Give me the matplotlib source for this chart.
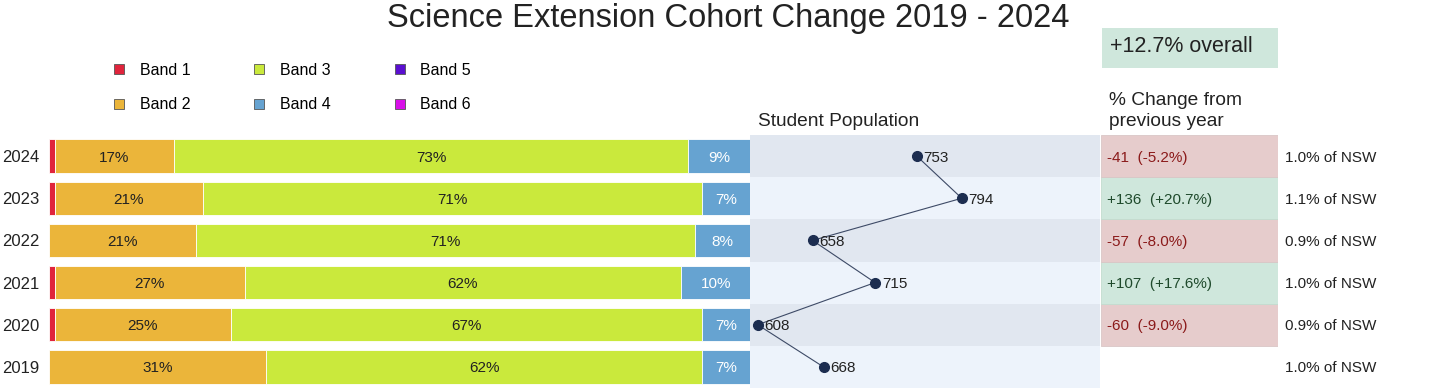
import matplotlib
matplotlib.use("Agg")
import matplotlib.pyplot as plt
from matplotlib.lines import Line2D
from matplotlib.patches import Rectangle
import numpy as np

plt.rcParams['font.family'] = ['Liberation Sans', 'DejaVu Sans']

# data, bottom row first (2019) up to 2024
years = ['2019', '2020', '2021', '2022', '2023', '2024']
band1 = [0.0, 0.8, 0.8, 0.0, 0.8, 0.8]
band2 = [31.0, 25.1, 27.1, 21.0, 21.1, 17.1]
band3 = [62.2, 67.3, 62.3, 71.2, 71.3, 73.3]
band4 = [6.8, 6.8, 9.8, 7.8, 6.8, 8.8]
band5 = [0.0, 0.0, 0.0, 0.0, 0.0, 0.0]
band6 = [0.0, 0.0, 0.0, 0.0, 0.0, 0.0]
population = [668, 608, 715, 658, 794, 753]
nsw_share = [1.0, 0.9, 1.0, 0.9, 1.1, 1.0]

band_names = ['Band 1', 'Band 2', 'Band 3', 'Band 4', 'Band 5', 'Band 6']
band_colors = ['#e0243c', '#ebb53a', '#cae93c', '#66a3d1', '#5a0fd0', '#d80fe8']
label_colors = ['#222222', '#222222', '#222222', 'white', 'white', 'white']
bands = [band1, band2, band3, band4, band5, band6]

W, H = 1456, 392
fig = plt.figure(figsize=(W / 100, H / 100), dpi=100)
y = np.arange(len(years))
ax_b, ax_h = 4 / H, 253 / H

# stacked bars
ax_bar = fig.add_axes([49 / W, ax_b, 701 / W, ax_h])
left = np.zeros(len(years))
for vals, col, lcol in zip(bands, band_colors, label_colors):
    vals = np.array(vals)
    ax_bar.barh(y, vals, left=left, height=0.79, color=col,
                edgecolor='white', linewidth=0.6)
    for yi, v, l in zip(y, vals, left):
        if v >= 3:
            ax_bar.text(l + v / 2, yi, f"{v:.0f}%", ha='center',
                        va='center_baseline', fontsize=11, color=lcol)
    left += vals
ax_bar.set_xlim(0, 100)
ax_bar.set_ylim(-0.5, len(years) - 0.5)
ax_bar.set_xticks([])
ax_bar.set_yticks(y)
ax_bar.set_yticklabels(years, fontsize=12, color='#222222')
ax_bar.tick_params(axis='y', length=0, pad=7)
for s in ax_bar.spines.values():
    s.set_visible(False)

# population
ax_pop = fig.add_axes([750 / W, ax_b, 350 / W, ax_h])
for yi in y:
    ax_pop.axhspan(yi - 0.5, yi + 0.5, color='#e1e7f0' if yi % 2 else '#edf3fb',
                   lw=0)
ax_pop.plot(population, y, color='#3d4a66', lw=0.8, marker='o', ms=7,
            mfc='#1c2d50', mec='#1c2d50')
for p, yi in zip(population, y):
    ax_pop.annotate(str(p), (p, yi), xytext=(5, 0), textcoords='offset points',
                    ha='left', va='center_baseline', fontsize=11, color='#222222')
ax_pop.set_xlim(601, 920)
ax_pop.set_ylim(-0.5, len(years) - 0.5)
ax_pop.axis('off')

# change from previous year
ax_ch = fig.add_axes([1101 / W, ax_b, 177 / W, ax_h])
for i in range(1, len(years)):
    diff = population[i] - population[i - 1]
    pct = diff / population[i - 1] * 100
    if diff >= 0:
        bg, fg, ec = '#cfe7dc', '#1f4a2c', '#c3dccf'
    else:
        bg, fg, ec = '#e6cccc', '#8b1a1a', '#d9c6c6'
    ax_ch.barh(y[i], 1, left=0, height=1, color=bg, edgecolor=ec, linewidth=0.6)
    ax_ch.text(0.035, y[i], f"{diff:+d}  ({pct:+.1f}%)", ha='left',
               va='center_baseline', fontsize=11, color=fg)
ax_ch.set_xlim(0, 1)
ax_ch.set_ylim(-0.5, len(years) - 0.5)
ax_ch.axis('off')

# share of NSW
ax_nsw = fig.add_axes([1278 / W, ax_b, 178 / W, ax_h])
for s, yi in zip(nsw_share, y):
    ax_nsw.text(0.04, yi, f"{s:.1f}% of NSW", ha='left', va='center_baseline',
                fontsize=11, color='#222222')
ax_nsw.set_xlim(0, 1)
ax_nsw.set_ylim(-0.5, len(years) - 0.5)
ax_nsw.axis('off')

# headers
overall = (population[-1] - population[0]) / population[0] * 100
fig.patches.append(Rectangle((1102 / W, 1 - 68 / H), 176 / W, 40 / H,
                             transform=fig.transFigure, color='#cfe7dc', lw=0))
fig.text(1110 / W, 1 - 46 / H, f"{overall:+.1f}% overall", ha='left', va='center',
         fontsize=15.5, color='#222222')
fig.text(1109 / W, 1 - 111 / H, "% Change from\nprevious year", ha='left',
         va='center', fontsize=13.8, linespacing=1.3, color='#222222')
fig.text(758 / W, 1 - 121 / H, "Student Population", ha='left', va='center',
         fontsize=13.8, color='#222222')
fig.text(0.5, 1 - 18 / H, "Science Extension Cohort Change 2019 - 2024",
         ha='center', va='center', fontsize=23.5, color='#222222')

# legend
handles = [Line2D([], [], ls='none', marker='s', ms=7.5, mfc=c,
                  mec='#555555', mew=0.6) for c in band_colors]
fig.legend(handles, band_names, ncol=3, loc='upper left',
           bbox_to_anchor=(113 / W, 1 - 63 / H), frameon=False, fontsize=11.5,
           handlelength=0.8, handletextpad=0.9, columnspacing=3.9,
           labelspacing=1.2, borderpad=0, borderaxespad=0)

fig.savefig('out.png', dpi=100)
